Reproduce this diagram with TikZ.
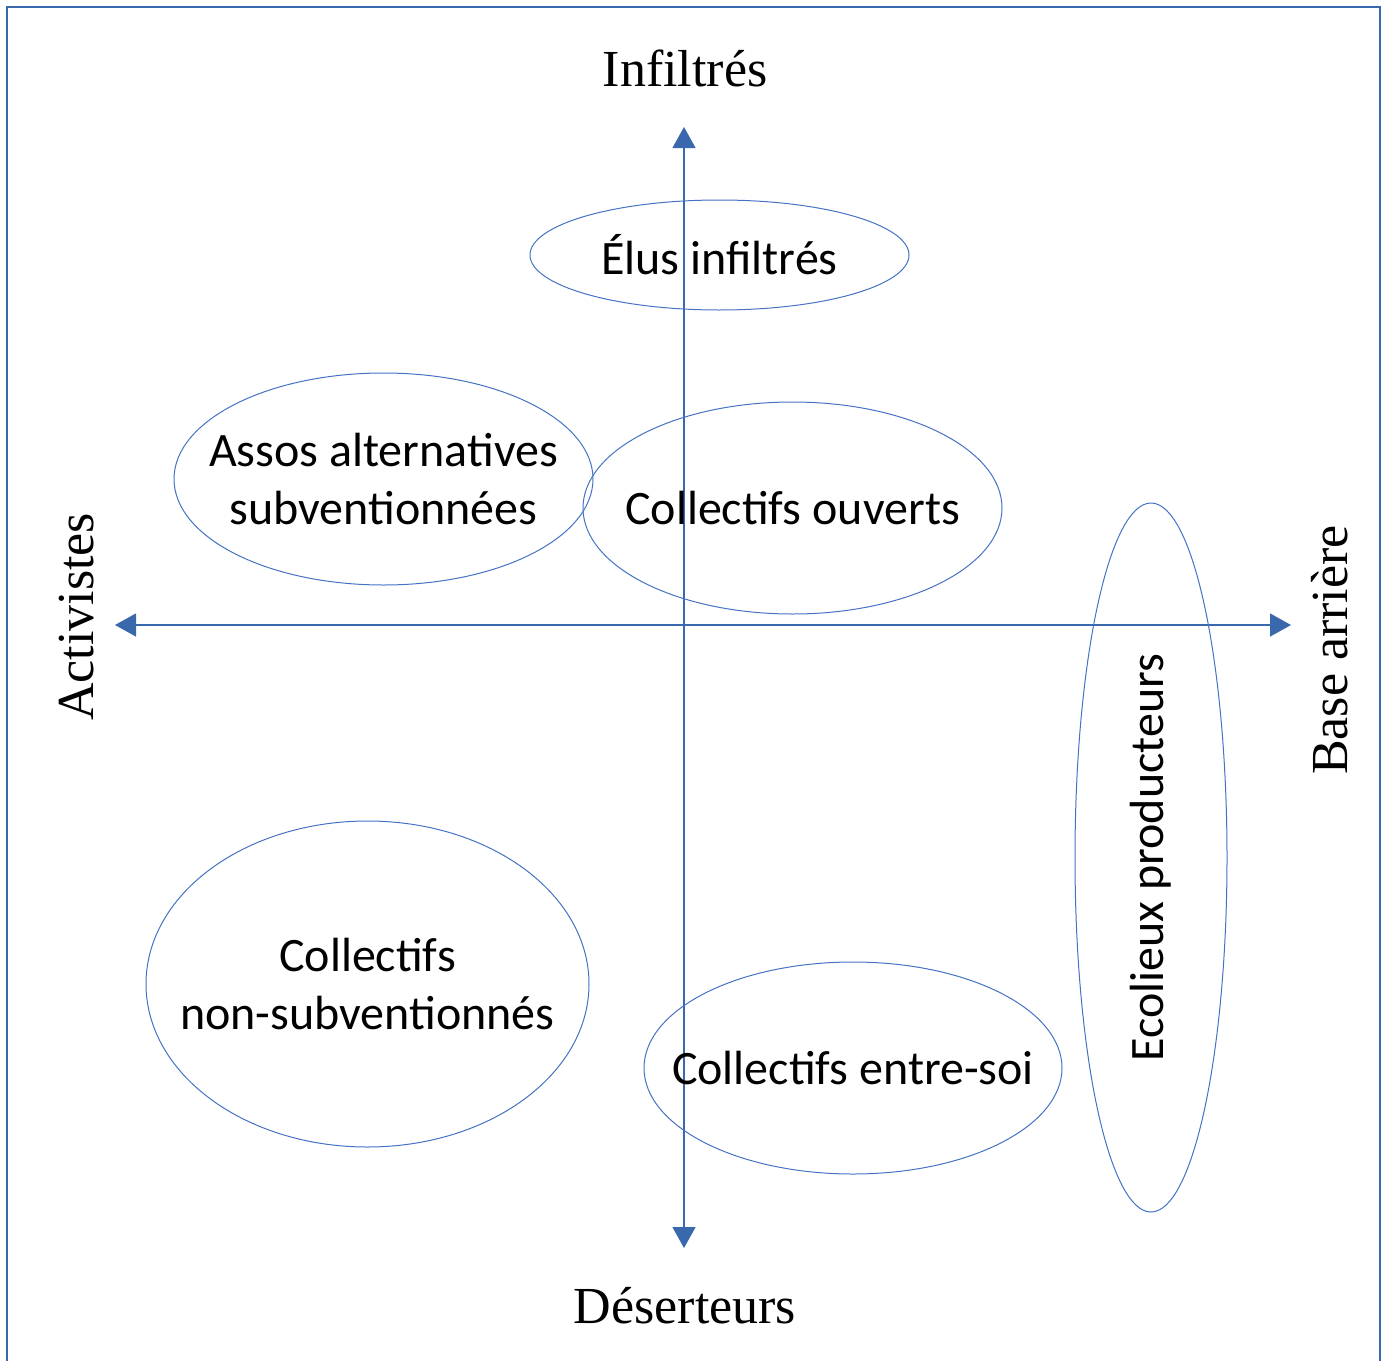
\documentclass[tikz,border=0pt]{standalone}
\usepackage{fontspec}
\setmainfont{Liberation Serif}
\newfontfamily\grpfont{Carlito}
\usetikzlibrary{arrows.meta, shapes.geometric}
\definecolor{axisblue}{RGB}{58,104,172}
\definecolor{ovalblue}{RGB}{68,114,196}
\tikzset{%
	group oval/.style={
		ellipse,
		draw=ovalblue,
		line width=0.5pt,
		inner sep=0pt
	},
	group label/.style={
		font=\grpfont\fontsize{24}{29}\selectfont,
		align=center
	},
	axis label/.style={
		font=\fontsize{26}{31}\selectfont
	},
	axis line/.style={
		draw=axisblue,
		line width=0.6pt,
		{Triangle[length=10.5pt,width=11.5pt]}-{Triangle[length=10.5pt,width=11.5pt]}
	},
}
\begin{document}
\begin{tikzpicture}[x=0.5pt, y=-0.5pt]
			\useasboundingbox (0,0) rectangle (1386,1360);
			
			% frame, open at the bottom
			\draw [axisblue, line width=1.3pt] (7,1364) -- (7,7) -- (1380,7) -- (1380,1364);
			
			\coordinate (infil) at (684,127);
			\coordinate (deser) at (684,1248);
			\coordinate (activ) at (115,625);
			\coordinate (base) at (1291,625);
			\draw [axis line] (deser) -- (infil);
			\draw [axis line] (activ) -- (base);
			
			\node [axis label] (infil-label) at (685,68) {Infiltrés};
			\node [axis label] (deser-label) at (685,1306) {Déserteurs};
			\node [axis label, rotate=90] (activ-label) at (77,617) {Activistes};
			\node [axis label, rotate=90] (base-label) at (1330,650) {Base arrière};
			
			\foreach \n/\cx/\cy/\w/\h/\r/\t in {
				elus/719.5/255/379/110/0/{Élus infiltrés},
				assos/383.5/479/419/212/0/{Assos alternatives\\subventionnées},
				ouverts/792.5/508/419/212/0/{Collectifs ouverts},
				ecolieux/1151/857.5/709/152/90/{Ecolieux producteurs},
				nonsub/367.5/984/443/326/0/{Collectifs\\non-subventionnés},
				entresoi/853/1068/418/212/0/{Collectifs entre-soi}}
			{
			\node [group oval, rotate=\r, minimum width=\w*0.5pt, minimum height=\h*0.5pt] (\n) at (\cx,\cy) {};
			\node [group label, rotate=\r] (\n-text) at (\n) {\t};
			}
			
		\end{tikzpicture}
\end{document}
